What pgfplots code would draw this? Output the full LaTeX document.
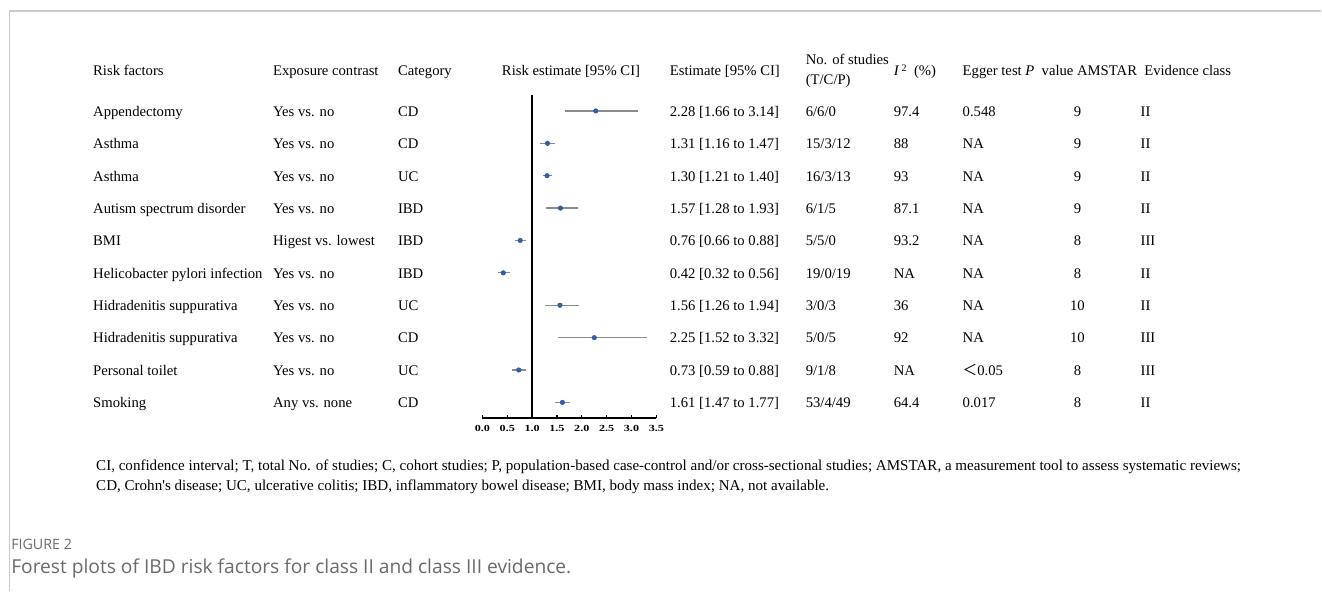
\documentclass[border=0pt]{standalone}
\usepackage{pgfplots}
\usepackage{pgfplotstable}
\pgfplotsset{compat=1.18}
\usepackage{fontspec}
\setmainfont{Liberation Serif}
\newfontfamily\nolig{Liberation Serif}
\newfontfamily\capfont{Open Sans}
\newfontfamily\cjk{Noto Sans CJK SC}
\definecolor{framegray}{HTML}{CCCCCC}
\definecolor{ptblue}{HTML}{2E5FA5}
\definecolor{cigray}{HTML}{8A8A8A}
\definecolor{capgray}{HTML}{6A6A6A}

\pgfplotstableread{
row est lo hi
1 2.28 1.66 3.14
2 1.31 1.16 1.47
3 1.30 1.21 1.40
4 1.57 1.28 1.93
5 0.76 0.66 0.88
6 0.42 0.32 0.56
7 1.56 1.26 1.94
8 2.25 1.52 3.32
9 0.73 0.59 0.88
10 1.61 1.47 1.77
}\forestdata

\begin{document}
\begin{tikzpicture}
\begin{scope}[x=0.75pt,y=-0.75pt,
  tx/.style={anchor=base west, inner sep=0pt, font=\fontsize{11}{12}\selectfont},
  tc/.style={anchor=base, inner sep=0pt, font=\fontsize{11}{12}\selectfont},
  fn/.style={anchor=base west, inner sep=0pt, font=\fontsize{11.3}{12}\selectfont}]
\path (0,0) rectangle (1322,591);
\draw[framegray, line width=1.1pt] (9.3,591) -- (9.3,11) -- (1322,11);

% header
\node[tx] at (93,76) {Risk factors};
\node[tx] at (273,76) {Exposure contrast};
\node[tx] at (398,76) {Category};
\node[tx] at (502,76) {Risk estimate [95\% CI]};
\node[tx] at (670,76) {Estimate [95\% CI]};
\node[tx] at (806,65) {No. of studies};
\node[tx] at (806,85) {(T/C/P)};
\node[tx] at (894,76) {\textit{I}\,\raisebox{0.6ex}{\fontsize{7.5}{7.5}\selectfont 2}\ \ (\%)};
\node[tx] at (963,76) {Egger test \textit{P}\ \ value AMSTAR\ \ Evidence class};

% rows
\foreach \yy/\t in {111/Appendectomy, 143.3/Asthma, 175.7/Asthma, 208/Autism spectrum disorder, 240.4/BMI, 272.8/Helicobacter pylori infection, 305.2/Hidradenitis suppurativa, 337.6/Hidradenitis suppurativa, 370/Personal toilet, 402.4/Smoking}
  \node[tx] at (93,\yy+5.5) {\t};
\foreach \yy/\t in {111/Yes vs. no, 143.3/Yes vs. no, 175.7/Yes vs. no, 208/Yes vs. no, 240.4/Higest vs. lowest, 272.8/Yes vs. no, 305.2/Yes vs. no, 337.6/Yes vs. no, 370/Yes vs. no, 402.4/Any vs. none}
  \node[tx] at (273,\yy+5.5) {\t};
\foreach \yy/\t in {111/CD, 143.3/CD, 175.7/UC, 208/IBD, 240.4/IBD, 272.8/IBD, 305.2/UC, 337.6/CD, 370/UC, 402.4/CD}
  \node[tx] at (398,\yy+5.5) {\t};
\foreach \yy/\t in {111/2.28 [1.66 to 3.14], 143.3/1.31 [1.16 to 1.47], 175.7/1.30 [1.21 to 1.40], 208/1.57 [1.28 to 1.93], 240.4/0.76 [0.66 to 0.88], 272.8/0.42 [0.32 to 0.56], 305.2/1.56 [1.26 to 1.94], 337.6/2.25 [1.52 to 3.32], 370/0.73 [0.59 to 0.88], 402.4/1.61 [1.47 to 1.77]}
  \node[tx] at (670,\yy+5.5) {\t};
\foreach \yy/\t in {111/6\slash 6\slash 0, 143.3/15\slash 3\slash 12, 175.7/16\slash 3\slash 13, 208/6\slash 1\slash 5, 240.4/5\slash 5\slash 0, 272.8/19\slash 0\slash 19, 305.2/3\slash 0\slash 3, 337.6/5\slash 0\slash 5, 370/9\slash 1\slash 8, 402.4/53\slash 4\slash 49}
  \node[tx] at (806,\yy+5.5) {\t};
\foreach \yy/\t in {111/97.4, 143.3/88, 175.7/93, 208/87.1, 240.4/93.2, 272.8/NA, 305.2/36, 337.6/92, 370/NA, 402.4/64.4}
  \node[tx] at (894,\yy+5.5) {\t};
\foreach \yy/\t in {111/0.548, 143.3/NA, 175.7/NA, 208/NA, 240.4/NA, 272.8/NA, 305.2/NA, 337.6/NA, 370/{{\cjk ＜}0.05}, 402.4/0.017}
  \node[tx] at (963,\yy+5.5) {\t};
\foreach \yy/\t in {111/9, 143.3/9, 175.7/9, 208/9, 240.4/8, 272.8/8, 305.2/10, 337.6/10, 370/8, 402.4/8}
  \node[tc] at (1078,\yy+5.5) {\t};
\foreach \yy/\t in {111/II, 143.3/II, 175.7/II, 208/II, 240.4/III, 272.8/II, 305.2/II, 337.6/III, 370/III, 402.4/II}
  \node[tx] at (1141,\yy+5.5) {\t};

% footnote
\node[fn] at (96,470.5) {CI, confidence interval; T, total No. of studies; C, cohort studies; P, population-based case-control and/or cross-sectional studies; AMSTAR, a measurement tool to assess systematic reviews;};
\node[fn] at (96,490.5) {CD, Crohn{\nolig'}s disease; UC, ulcerative colitis; IBD, inflammatory bowel disease; BMI, body mass index; NA, not available.};

% caption
\node[anchor=base west, inner sep=0pt, font=\capfont\fontsize{10.7}{12}\selectfont, text=capgray] at (11,550) {FIGURE 2};
\node[anchor=base west, inner sep=0pt, font=\capfont\fontsize{14.4}{16}\selectfont, text=capgray] at (11,574) {Forest plots of IBD risk factors for class II and class III evidence.};
\end{scope}

\begin{axis}[at={(362.03pt,-313.73pt)}, anchor=south west, scale only axis,
  width=130.5pt, height=242.63pt,
  xmin=0, xmax=3.5, ymin=-10.485, ymax=-0.5,
  axis x line=bottom, axis y line=none,
  x axis line style={-, line width=0.95pt},
  xtick={0,0.5,1,1.5,2,2.5,3,3.5},
  xticklabels={0.0,0.5,1.0,1.5,2.0,2.5,3.0,3.5},
  tick align=inside, major tick length=2.2pt,
  tick style={black, line width=0.8pt},
  xticklabel style={font=\fontsize{7}{7}\selectfont\bfseries, xscale=1.3, inner sep=0pt, yshift=-5.2pt},
  clip=false]
\addplot[black, line width=1.1pt, no marks] coordinates {(1,-0.5) (1,-10.485)};
\addplot[only marks, mark=*, mark size=1.7pt, mark options={fill=ptblue, draw=ptblue},
  error bars/.cd, x dir=both, x explicit, error mark=none,
  error bar style={cigray, line width=0.9pt}]
  table[x=est, y expr=-\thisrow{row},
        x error plus expr=\thisrow{hi}-\thisrow{est},
        x error minus expr=\thisrow{est}-\thisrow{lo}] {\forestdata};
\end{axis}
\end{tikzpicture}
\end{document}
